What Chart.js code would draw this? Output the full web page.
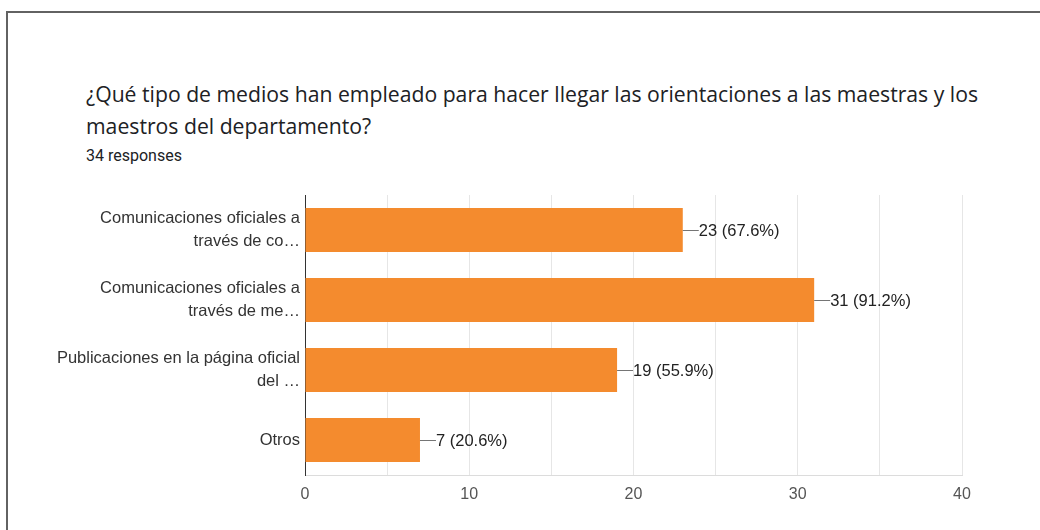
<!DOCTYPE html>
<html>
<head>
<meta charset="utf-8">
<script src="https://cdn.jsdelivr.net/npm/chart.js@4/dist/chart.umd.min.js"></script>
<style>
  html, body { margin: 0; padding: 0; background: #fff; }
  #wrap { position: relative; width: 1040px; height: 530px; overflow: hidden; }
  #frame {
    position: absolute; left: 6px; top: 11px; width: 1100px; height: 600px;
    border-top: 2px solid #626262; border-left: 2px solid #626262;
  }
  #title {
    position: absolute; left: 86px; top: 78px; width: 940px;
    font-family: "Open Sans", sans-serif; font-size: 21.2px; line-height: 32px;
    color: #202124;
  }
  #sub {
    position: absolute; left: 86px; top: 146px;
    font-family: Roboto, sans-serif; font-size: 16px; color: #202124;
  }
  #chart { position: absolute; left: 0; top: 0; }
</style>
</head>
<body>
<div id="wrap">
  <div id="frame"></div>
  <div id="title">¿Qué tipo de medios han empleado para hacer llegar las orientaciones a las maestras y los maestros del departamento?</div>
  <div id="sub">34 responses</div>
  <canvas id="chart" width="1040" height="530"></canvas>
</div>
<script>
/* ======= DATA ======= */
const categories = [
  ['Comunicaciones oficiales a', 'través de co…'],
  ['Comunicaciones oficiales a', 'través de me…'],
  ['Publicaciones en la página oficial', 'del …'],
  'Otros'
];
const counts = [23, 31, 19, 7];
const percents = ['67.6%', '91.2%', '55.9%', '20.6%'];
const xTicks = [0, 10, 20, 30, 40];

const BAR_COLOR = '#f48b2e';
const FONT = 'Arial, "Liberation Sans", sans-serif';

/* ======= VALUE LABELS ======= */
const valueLabels = {
  id: 'valueLabels',
  afterDatasetsDraw(chart) {
    const ctx = chart.ctx;
    const meta = chart.getDatasetMeta(0);
    ctx.save();
    ctx.font = '16.5px ' + FONT;
    ctx.textBaseline = 'middle';
    meta.data.forEach((bar, i) => {
      const x = bar.x;
      const y = bar.y;
      ctx.strokeStyle = '#757575';
      ctx.lineWidth = 1;
      ctx.beginPath();
      ctx.moveTo(x, y + 0.5);
      ctx.lineTo(x + 16, y + 0.5);
      ctx.stroke();
      ctx.fillStyle = '#222';
      ctx.fillText(`${counts[i]} (${percents[i]})`, x + 16, y + 1);
    });
    ctx.restore();
  }
};

/* ======= CHART ======= */
new Chart(document.getElementById('chart'), {
  type: 'bar',
  data: {
    labels: categories,
    datasets: [{
      data: counts,
      backgroundColor: BAR_COLOR,
      borderWidth: 0,
      barPercentage: 0.63,
      categoryPercentage: 1,
    }]
  },
  options: {
    indexAxis: 'y',
    responsive: false,
    animation: false,
    layout: { padding: { top: 195, left: 0, right: 78, bottom: 0 } },
    plugins: {
      legend: { display: false },
      tooltip: { enabled: false }
    },
    scales: {
      x: {
        min: 0,
        max: 40,
        afterFit: s => { s.height = 55; },
        grid: { color: '#e6e6e6', drawTicks: false },
        border: { display: true, color: '#dcdcdc' },
        ticks: {
          stepSize: 5,
          padding: 10,
          color: '#555',
          font: { family: FONT, size: 16 },
          callback: v => xTicks.includes(v) ? v : ''
        }
      },
      y: {
        afterFit: s => { s.width = 305; },
        grid: { display: false },
        border: { display: true, color: '#333', width: 1 },
        ticks: {
          padding: -3,
          color: '#333',
          font: { family: FONT, size: 16.5, lineHeight: 1.35 }
        }
      }
    }
  },
  plugins: [valueLabels]
});
</script>
</body>
</html>
